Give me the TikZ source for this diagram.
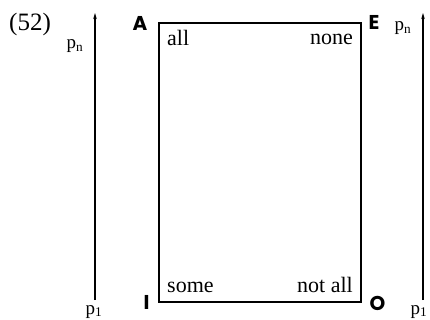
\documentclass[tikz,border=0pt]{standalone}
\usepackage{fontspec}
\setmainfont{Liberation Serif}
\newfontfamily\corner{Poppins}
\usetikzlibrary{arrows.meta}
\begin{document}
\begin{tikzpicture}[x=1pt,y=-1pt,
  frame/.style={line width=1.6pt},
  axis/.style={line width=1.4pt,-{Stealth[length=6pt,width=3.5pt]}},
  word/.style={font=\fontsize{22}{22}\selectfont,inner sep=0pt},
  vert/.style={font=\corner\bfseries\fontsize{20}{20}\selectfont,inner sep=0pt},
  plab/.style={font=\fontsize{19}{19}\selectfont,inner sep=0pt}]
\useasboundingbox (0,0) rectangle (430,320);
\node[font=\fontsize{25}{25}\selectfont,inner sep=0pt] (num) at (30,24) {(52)};
% box
\coordinate (tl) at (159,23);
\coordinate (br) at (361,302);
\draw[frame] (tl) rectangle (br);
\node[vert] (A) at (140,23) {A};
\node[vert] (E) at (374,22.5) {E};
\node[vert] (I) at (146.5,302.5) {I};
\node[vert] (O) at (377.5,303.5) {O};
\node[word,anchor=base west] (all) at (167,46) {all};
\node[word,anchor=base east] (none) at (353,45) {none};
\node[word,anchor=base west] (some) at (167,292) {some};
\node[word,anchor=base east] (notall) at (353,292) {not all};
% left scale
\coordinate (lb) at (95,300);
\coordinate (lt) at (95,13);
\draw[axis] (lb) -- (lt);
\node[plab] (lpn) at (75,46) {p\textsubscript{n}};
\node[plab,anchor=base] (lp1) at (94,314) {p\textsubscript{1}};
% right scale
\coordinate (rb) at (423,300);
\coordinate (rt) at (423,13);
\draw[axis] (rb) -- (rt);
\node[plab] (rpn) at (403,28) {p\textsubscript{n}};
\node[plab,anchor=base] (rp1) at (419,314) {p\textsubscript{1}};
\end{tikzpicture}
\end{document}
